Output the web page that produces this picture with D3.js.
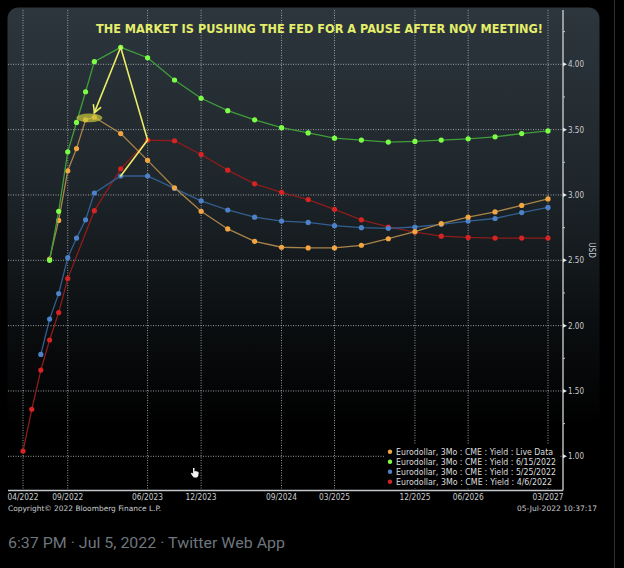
<!DOCTYPE html>
<html>
<head>
<meta charset="utf-8">
<script src="https://cdn.jsdelivr.net/npm/d3@7"></script>
<style>
  html, body { margin: 0; padding: 0; background: #000; }
  svg { display: block; }
</style>
</head>
<body>
<div id="chart"></div>
<script>
// eurodollar strip, values
var quarterly = ["2022-12","2023-03","2023-06","2023-09","2023-12","2024-03","2024-06","2024-09","2024-12",
                 "2025-03","2025-06","2025-09","2025-12","2026-03","2026-06","2026-09","2026-12","2027-03"]

var liveDates  = ["2022-07","2022-08","2022-09","2022-10","2022-11"].concat(quarterly)
var liveValues = [2.51, 2.805, 3.185, 3.355, 3.575, 3.595, 3.47, 3.265, 3.055, 2.875, 2.74, 2.645, 2.60,
                  2.595, 2.595, 2.615, 2.665, 2.72, 2.78, 2.83, 2.87, 2.92, 2.97]

var juneDates  = ["2022-07","2022-08","2022-09","2022-10","2022-11"].concat(quarterly)
var juneValues = [2.50, 2.875, 3.33, 3.555, 3.79, 4.02, 4.13, 4.05, 3.88, 3.74, 3.645, 3.575, 3.515,
                  3.475, 3.435, 3.42, 3.405, 3.41, 3.42, 3.43, 3.445, 3.47, 3.49]

var mayDates   = ["2022-06","2022-07","2022-08","2022-09","2022-10","2022-11"].concat(quarterly)
var mayValues  = [1.78, 2.05, 2.245, 2.52, 2.67, 2.81, 3.015, 3.145, 3.145, 3.05, 2.955, 2.885, 2.83,
                  2.80, 2.79, 2.765, 2.75, 2.745, 2.755, 2.775, 2.80, 2.82, 2.865, 2.905]

var aprilDates  = ["2022-04","2022-05","2022-06","2022-07","2022-08","2022-09"].concat(quarterly)
var aprilValues = [1.04, 1.36, 1.66, 1.89, 2.10, 2.36, 2.88, 3.20, 3.42, 3.415, 3.31, 3.19, 3.085,
                   3.02, 2.965, 2.89, 2.81, 2.755, 2.715, 2.685, 2.675, 2.67, 2.67, 2.67]

var legendNames = ["Eurodollar, 3Mo : CME : Yield : Live Data",
                   "Eurodollar, 3Mo : CME : Yield : 6/15/2022",
                   "Eurodollar, 3Mo : CME : Yield : 5/25/2022",
                   "Eurodollar, 3Mo : CME : Yield : 4/6/2022"]

var xTickLabels = ["04/2022","09/2022","06/2023","12/2023","09/2024","03/2025","12/2025","06/2026","03/2027"]
var yTickValues = [1.00, 1.50, 2.00, 2.50, 3.00, 3.50, 4.00]
var yMinorValues = [1.25, 1.75, 2.25, 2.75, 3.25, 3.75, 4.25]

// annotation drawn on the screenshot (date, value)
var arrowFrom = ["2023-03-01", 4.13]
var arrowTip  = ["2022-12-01", 3.63]
var zigzag    = [["2023-03-01", 4.13], ["2023-06-01", 3.42], ["2023-03-01", 3.145]]
var ellipseAt = ["2022-11-14", 3.59]

var width = 624,
    height = 568
var plotLeft = 8, plotRight = 563, plotTop = 10, plotBottom = 490.5

var parseMonth = d3.timeParse("%Y-%m")
var parseDay = d3.timeParse("%Y-%m-%d")
var parseTick = d3.timeParse("%m/%Y")

var x = d3.scaleTime()
    .domain([parseMonth("2022-04"), parseMonth("2027-03")])
    .range([23, 548])
var y = d3.scaleLinear()
    .domain([1, 4])
    .range([456.3, 64.3])

// draw order: red, blue, orange, green on top
var series = [
  {name: legendNames[3], dates: aprilDates, values: aprilValues, line: "#8e1c1c", dot: "#d62424"},
  {name: legendNames[2], dates: mayDates,   values: mayValues,   line: "#335f93", dot: "#4d82c9"},
  {name: legendNames[0], dates: liveDates,  values: liveValues,  line: "#a9844a", dot: "#f3a541"},
  {name: legendNames[1], dates: juneDates,  values: juneValues,  line: "#3f9d3a", dot: "#7dff47"}
]
series.forEach(function(s) {
  s.points = s.dates.map(function(d, i) { return {date: parseMonth(d), value: s.values[i]} })
})

var svg = d3.select("#chart")
  .append("svg")
    .attr("width", width)
    .attr("height", height)

var defs = svg.append("defs")
var grad = defs.append("linearGradient")
    .attr("id", "bg")
    .attr("x1", 0).attr("y1", 0).attr("x2", 0).attr("y2", 1)
grad.append("stop").attr("offset", "0%").attr("stop-color", "#2d363d")
grad.append("stop").attr("offset", "35%").attr("stop-color", "#1e262b")
grad.append("stop").attr("offset", "62%").attr("stop-color", "#0b0e10")
grad.append("stop").attr("offset", "82%").attr("stop-color", "#000000")

svg.append("rect")
    .attr("width", width).attr("height", height)
    .attr("fill", "#000")

// twitter column border
svg.append("line")
    .attr("x1", 614.5).attr("x2", 614.5)
    .attr("y1", 0).attr("y2", height)
    .attr("stroke", "#2a2e31")

// bloomberg panel
svg.append("rect")
    .attr("x", 7.5).attr("y", 7.5)
    .attr("width", 592).attr("height", 509)
    .attr("rx", 11)
    .attr("fill", "url(#bg)")

var g = svg.append("g")

// grid
g.selectAll(".hgrid")
  .data(yTickValues)
  .enter()
  .append("line")
    .attr("x1", plotLeft).attr("x2", plotRight)
    .attr("y1", function(d) { return y(d) }).attr("y2", function(d) { return y(d) })
    .attr("stroke", "#b0b6ba")
    .attr("stroke-width", 1)
    .attr("stroke-dasharray", "1,1.5")
    .attr("opacity", 0.85)

g.selectAll(".vgrid")
  .data(xTickLabels)
  .enter()
  .append("line")
    .attr("x1", function(d) { return x(parseTick(d)) }).attr("x2", function(d) { return x(parseTick(d)) })
    .attr("y1", plotTop).attr("y2", plotBottom)
    .attr("stroke", "#b0b6ba")
    .attr("stroke-width", 1)
    .attr("stroke-dasharray", "1,1.5")
    .attr("opacity", 0.85)

// axes lines
g.append("line")
    .attr("x1", plotRight).attr("x2", plotRight)
    .attr("y1", plotTop).attr("y2", plotBottom)
    .attr("stroke", "#c4c8cb").attr("stroke-width", 1.4)
g.append("line")
    .attr("x1", plotLeft).attr("x2", plotRight)
    .attr("y1", plotBottom).attr("y2", plotBottom)
    .attr("stroke", "#c4c8cb").attr("stroke-width", 1.4)

// right axis ticks + labels
g.selectAll(".ytick")
  .data(yTickValues)
  .enter()
  .append("path")
    .attr("d", function(d) { var yy = y(d); return "M" + plotRight + "," + (yy - 2) + "L" + (plotRight + 4) + "," + yy + "L" + plotRight + "," + (yy + 2) + "Z" })
    .attr("fill", "#e8e8e8")

g.selectAll(".yminor")
  .data(yMinorValues)
  .enter()
  .append("line")
    .attr("x1", plotRight).attr("x2", plotRight + 2)
    .attr("y1", function(d) { return y(d) }).attr("y2", function(d) { return y(d) })
    .attr("stroke", "#c4c8cb")

g.selectAll(".ylabel")
  .data(yTickValues)
  .enter()
  .append("text")
    .attr("x", 568)
    .attr("y", function(d) { return y(d) + 3 })
    .text(function(d) { return d3.format(".2f")(d) })
    .attr("textLength", 16)
    .attr("lengthAdjust", "spacingAndGlyphs")
    .style("font-family", "'DejaVu Sans Condensed', 'Liberation Sans', sans-serif")
    .style("font-size", "8.5px")
    .style("fill", "#c9cccf")

g.append("text")
    .attr("transform", "translate(589,250) rotate(90)")
    .attr("text-anchor", "middle")
    .text("USD")
    .style("font-family", "'DejaVu Sans Condensed', 'Liberation Sans', sans-serif")
    .style("font-size", "8px")
    .style("fill", "#c9cccf")

// bottom axis labels
g.selectAll(".xlabel")
  .data(xTickLabels)
  .enter()
  .append("text")
    .attr("x", function(d) { return x(parseTick(d)) })
    .attr("y", 500)
    .attr("text-anchor", "middle")
    .text(function(d) { return d })
    .attr("textLength", 31)
    .attr("lengthAdjust", "spacingAndGlyphs")
    .style("font-family", "'DejaVu Sans Condensed', 'Liberation Sans', sans-serif")
    .style("font-size", "8.5px")
    .style("fill", "#c9cccf")

// the curves
var line = d3.line()
    .x(function(d) { return x(d.date) })
    .y(function(d) { return y(d.value) })

var curves = g.selectAll(".curve")
  .data(series)
  .enter()
  .append("g")

curves.append("path")
    .attr("d", function(s) { return line(s.points) })
    .attr("fill", "none")
    .attr("stroke", function(s) { return s.line })
    .attr("stroke-width", 1.3)

curves.selectAll("circle")
  .data(function(s) { return s.points.map(function(p) { return {p: p, c: s.dot} }) })
  .enter()
  .append("circle")
    .attr("cx", function(d) { return x(d.p.date) })
    .attr("cy", function(d) { return y(d.p.value) })
    .attr("r", 2.6)
    .attr("fill", function(d) { return d.c })

// yellow markup
var ann = g.append("g")
    .attr("stroke", "#e9ec66")
    .attr("stroke-width", 1.6)
    .attr("fill", "none")
    .attr("stroke-linecap", "round")

var fx = x(parseDay(arrowFrom[0])), fy = y(arrowFrom[1])
var tx = x(parseDay(arrowTip[0])), ty = y(arrowTip[1])
ann.append("line")
    .attr("x1", fx).attr("y1", fy).attr("x2", tx).attr("y2", ty)
var ang = Math.atan2(fy - ty, fx - tx)
ann.append("path")
    .attr("d", "M" + (tx + 8 * Math.cos(ang + 0.5)) + "," + (ty + 8 * Math.sin(ang + 0.5)) +
               "L" + tx + "," + ty +
               "L" + (tx + 8 * Math.cos(ang - 0.5)) + "," + (ty + 8 * Math.sin(ang - 0.5)))

ann.append("path")
    .attr("d", d3.line()
      .x(function(d) { return x(parseDay(d[0])) })
      .y(function(d) { return y(d[1]) })(zigzag))

g.append("ellipse")
    .attr("cx", x(parseDay(ellipseAt[0])))
    .attr("cy", y(ellipseAt[1]))
    .attr("rx", 13)
    .attr("ry", 4.3)
    .attr("fill", "#c9c93a")
    .attr("opacity", 0.7)

// legend
var legend = g.append("g")
legend.append("rect")
    .attr("x", 384).attr("y", 445)
    .attr("width", 175).attr("height", 43)
    .attr("fill", "#000")

var legendOrder = [2, 3, 1, 0]
var legendLen = [157, 160, 160, 156]
legend.selectAll(".item")
  .data(legendOrder)
  .enter()
  .append("circle")
    .attr("cx", 390)
    .attr("cy", function(d, i) { return 451.7 + i * 10 })
    .attr("r", 2.2)
    .attr("fill", function(d) { return series[d].dot })
legend.selectAll(".itemtext")
  .data(legendOrder)
  .enter()
  .append("text")
    .attr("x", 396)
    .attr("y", function(d, i) { return 454.6 + i * 10 })
    .text(function(d) { return series[d].name })
    .attr("textLength", function(d, i) { return legendLen[i] })
    .attr("lengthAdjust", "spacingAndGlyphs")
    .style("font-family", "'DejaVu Sans Condensed', 'Liberation Sans', sans-serif")
    .style("font-size", "8px")
    .style("fill", "#dcdcdc")

// title
g.append("text")
    .attr("x", 319.5)
    .attr("y", 32.5)
    .attr("text-anchor", "middle")
    .text("THE MARKET IS PUSHING THE FED FOR A PAUSE AFTER NOV MEETING!")
    .attr("textLength", 447)
    .attr("lengthAdjust", "spacingAndGlyphs")
    .style("font-family", "'DejaVu Sans', sans-serif")
    .style("font-weight", "bold")
    .style("font-size", "12.5px")
    .style("fill", "#e4ee6b")

// mouse pointer left on the screen
g.append("path")
    .attr("d", "M193,468 l1.5,0 l0,3.5 l1.2,-0.6 l1.2,0.6 l1.2,0.2 l0.6,1 l-0.4,3 l-1.2,1.8 l-3.2,0 l-2.2,-2.6 l-0.8,-1.8 l1.2,-0.4 l1,1 Z")
    .attr("fill", "#f2f2f2")

// footer lines
svg.append("text")
    .attr("x", 8).attr("y", 511)
    .text("Copyright\u00a9 2022 Bloomberg Finance L.P.")
    .attr("textLength", 153)
    .attr("lengthAdjust", "spacingAndGlyphs")
    .style("font-family", "'DejaVu Sans Condensed', 'Liberation Sans', sans-serif")
    .style("font-size", "7.5px")
    .style("fill", "#c9cccf")

svg.append("text")
    .attr("x", 597).attr("y", 511)
    .attr("text-anchor", "end")
    .text("05-Jul-2022 10:37:17")
    .attr("textLength", 80)
    .attr("lengthAdjust", "spacingAndGlyphs")
    .style("font-family", "'DejaVu Sans Condensed', 'Liberation Sans', sans-serif")
    .style("font-size", "7.5px")
    .style("fill", "#c9cccf")

svg.append("text")
    .attr("x", 8).attr("y", 547.5)
    .text("6:37 PM \u00b7 Jul 5, 2022 \u00b7 Twitter Web App")
    .attr("textLength", 277)
    .attr("lengthAdjust", "spacingAndGlyphs")
    .style("font-family", "Roboto, 'Noto Sans', sans-serif")
    .style("font-size", "15px")
    .style("fill", "#6e767d")
</script>
</body>
</html>
